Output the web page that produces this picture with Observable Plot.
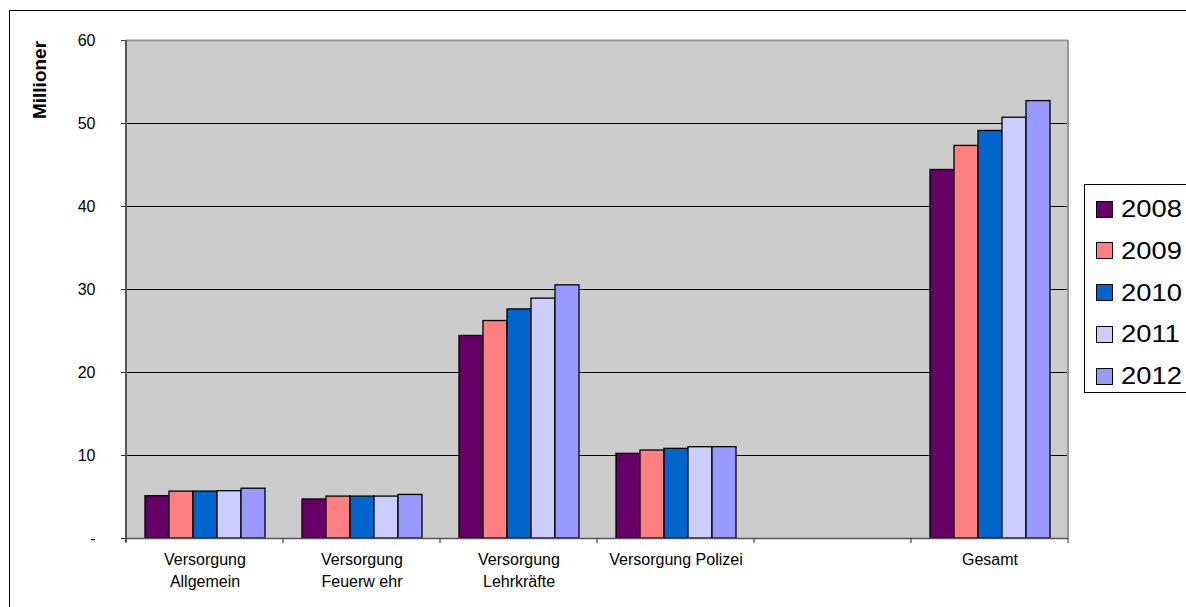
<!DOCTYPE html>
<html><head><meta charset="utf-8">
<script src="https://cdn.jsdelivr.net/npm/d3@7"></script>
<script src="https://cdn.jsdelivr.net/npm/@observablehq/plot@0.6"></script>
<style>
html,body{margin:0;padding:0;background:#fff;overflow:hidden;width:1186px;height:607px;}
#wrap{position:relative;width:1186px;height:607px;font-family:"Liberation Sans",Arial,sans-serif;overflow:hidden;}
#border{position:absolute;left:9px;top:10px;width:1400px;height:800px;border-left:1px solid #000;border-top:1px solid #000;}
#chart{position:absolute;left:0;top:0;}
#ylabel{position:absolute;left:40px;top:80px;transform:translate(-50%,-50%) rotate(-90deg);font-weight:bold;font-size:19px;white-space:nowrap;color:#000;}
#legend{position:absolute;left:1084px;top:184px;width:200px;height:207px;border:1px solid #000;background:#fff;}
.item{position:absolute;left:11px;height:24px;display:flex;align-items:center;font-size:24px;color:#000;white-space:nowrap;}
.item span{display:inline-block;transform:scaleX(1.14);transform-origin:left center;}
.sw{width:15px;height:15px;border:1px solid #000;margin-right:8px;flex:none;}
</style></head>
<body><div id="wrap"><div id="border"></div><div id="chart"></div><div id="ylabel"></div><div id="legend"></div></div>
<script>
// ---- data ----
const categories = ["Versorgung\nAllgemein", "Versorgung\nFeuerw ehr", "Versorgung\nLehrkräfte", "Versorgung Polizei", " ", "Gesamt"];
const years = ["2008", "2009", "2010", "2011", "2012"];
const v2008 = [5.1, 4.7, 24.4, 10.2, null, 44.4];
const v2009 = [5.65, 5.05, 26.2, 10.6, null, 47.3];
const v2010 = [5.65, 5.05, 27.6, 10.8, null, 49.1];
const v2011 = [5.7, 5.05, 28.9, 11.0, null, 50.7];
const v2012 = [6.0, 5.25, 30.5, 11.0, null, 52.7];
const yTicks = [0, 10, 20, 30, 40, 50, 60];
const gridValues = [10, 20, 30, 40, 50];
const colors = ["#660066", "#ff8080", "#0066cc", "#ccccff", "#9999ff"];
const yLabel = "Millioner";

const series = [v2008, v2009, v2010, v2011, v2012];
const rows = [];
series.forEach((vals, yi) => vals.forEach((v, ci) => {
  rows.push({category: categories[ci], year: years[yi], value: v});
}));

const chart = Plot.plot({
  width: 1186, height: 607,
  marginLeft: 126, marginRight: 118, marginTop: 40, marginBottom: 69,
  style: {fontFamily: '"Liberation Sans", Arial, sans-serif', fontSize: "16px", color: "#000", background: "transparent", overflow: "visible"},
  fx: {domain: categories, padding: 0, label: null},
  x: {domain: years, paddingInner: 0, paddingOuter: 0.71, axis: null},
  y: {domain: [0, 60], label: null, axis: null},
  color: {domain: years, range: colors},
  marks: [
    Plot.frame({fill: "#cccccc", stroke: "none", shapeRendering: "crispEdges"}),
    Plot.ruleY(gridValues, {stroke: "#000", strokeWidth: 1}),
    Plot.ruleY([60], {stroke: "#999", strokeWidth: 2}),
    Plot.barY(rows, {fx: "category", x: "year", y: "value", fill: "year", stroke: "#000", strokeWidth: 1.3}),
    Plot.ruleY([0], {stroke: "#555", strokeWidth: 1.5}),
    Plot.axisY({ticks: yTicks, tickFormat: d => d === 0 ? "-" : d, tickSize: 5, tickPadding: 26, fontSize: 16, stroke: "#333", label: null}),
    Plot.axisFx({anchor: "bottom", tickSize: 0, tickPadding: 11, lineHeight: 1.36, fontSize: 16, label: null})
  ]
});
document.getElementById("chart").appendChild(chart);
document.getElementById("ylabel").textContent = yLabel;

// plot-area edges and category boundary ticks, from the library's scales
const fxS = chart.scale("fx");
const yS = chart.scale("y");
const x0 = fxS.range[0], x1 = fxS.range[1], step = fxS.step;
const yb = Math.max(...yS.range), yt = Math.min(...yS.range);
const svg = d3.select(chart);
const g = svg.append("g");
g.append("line").attr("x1", x1).attr("x2", x1).attr("y1", yt).attr("y2", yb).attr("stroke", "#999").attr("stroke-width", 2);
g.append("line").attr("x1", x0).attr("x2", x0).attr("y1", yt).attr("y2", yb + 4).attr("stroke", "#555").attr("stroke-width", 2);
d3.range(categories.length + 1).forEach(i => {
  const xx = x0 + i * step;
  g.append("line").attr("x1", xx).attr("x2", xx).attr("y1", yb).attr("y2", yb + 5).attr("stroke", "#444").attr("stroke-width", 1.2);
});

// legend
const leg = document.getElementById("legend");
years.forEach((yr, i) => {
  const it = document.createElement("div");
  it.className = "item";
  it.style.top = (12 + i * 41.75) + "px";
  it.innerHTML = `<div class="sw" style="background:${colors[i]}"></div><span>${yr}</span>`;
  leg.appendChild(it);
});
</script>
</body></html>
